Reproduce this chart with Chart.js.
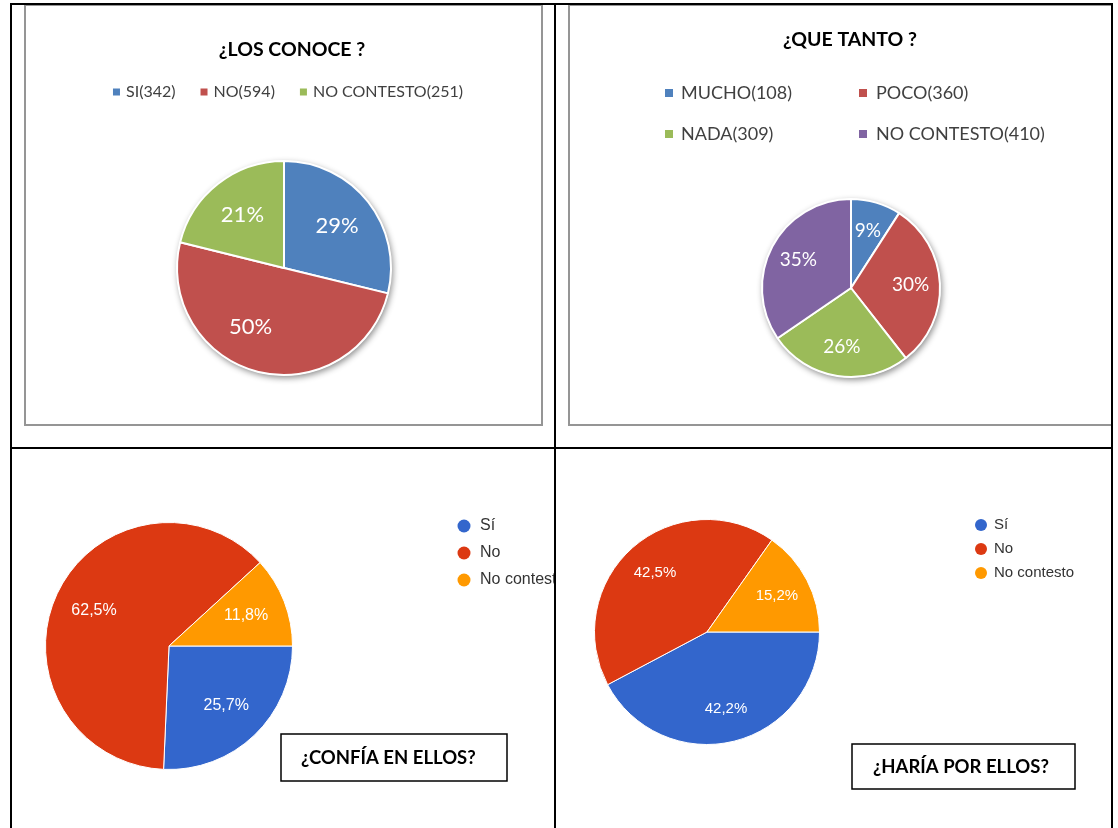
<!DOCTYPE html>
<html><head><meta charset="utf-8">
<script src="https://cdn.jsdelivr.net/npm/chart.js@4.4.1/dist/chart.umd.min.js"></script>
<style>
html,body{margin:0;padding:0;background:#fff;}
body{width:1118px;height:828px;position:relative;overflow:hidden;}
.ln{position:absolute;background:#000;}
.frame{position:absolute;border:2px solid #959595;box-sizing:border-box;}
canvas{position:absolute;}
</style></head><body>
<div class="frame" style="left:24px;top:4px;width:519px;height:422px"></div>
<div class="frame" style="left:568px;top:4px;width:545px;height:422px"></div>
<canvas id="c1" width="516" height="418" style="left:26px;top:6px"></canvas>
<canvas id="c2" width="540" height="418" style="left:570px;top:6px"></canvas>
<canvas id="c3" width="542" height="379" style="left:12px;top:449px"></canvas>
<canvas id="c4" width="555" height="379" style="left:556px;top:449px"></canvas>
<div class="ln" style="left:10px;top:3px;width:1103px;height:2px"></div>
<div class="ln" style="left:10px;top:3px;width:2px;height:825px"></div>
<div class="ln" style="left:554px;top:3px;width:2px;height:825px"></div>
<div class="ln" style="left:1111px;top:3px;width:2px;height:825px"></div>
<div class="ln" style="left:10px;top:447px;width:1103px;height:2px"></div>
<script>
// ---- data ----
const conoceTitle = '¿LOS CONOCE ?';
const conoceLabels = ['SI(342)', 'NO(594)', 'NO CONTESTO(251)'];
const conoceValues = [342, 594, 251];

const tantoTitle = '¿QUE TANTO ?';
const tantoLabels = ['MUCHO(108)', 'POCO(360)', 'NADA(309)', 'NO CONTESTO(410)'];
const tantoValues = [108, 360, 309, 410];

const confiaTitle = '¿CONFÍA EN ELLOS?';
const confiaLabels = ['Sí', 'No', 'No contesto'];
const confiaValues = [25.7, 62.5, 11.8];

const hariaTitle = '¿HARÍA POR ELLOS?';
const hariaLabels = ['Sí', 'No', 'No contesto'];
const hariaValues = [42.2, 42.5, 15.2];

const excelColors = ['#4F81BD', '#C0504D', '#9BBB59', '#8064A2'];
const googleColors = ['#3366CC', '#DC3912', '#FF9900'];

const pctRound = (v, t) => Math.round(v / t * 100) + '%';
const pctComma = (v) => v.toFixed(1).replace('.', ',') + '%';

function makeDecor(cfg) {
  return {
    id: 'decor',
    beforeDatasetsDraw(chart) {
      if (!cfg.shadow) return;
      const arc = chart.getDatasetMeta(0).data[0];
      const ctx = chart.ctx;
      ctx.save();
      ctx.shadowColor = 'rgba(0,0,0,0.45)';
      ctx.shadowBlur = 6;
      ctx.shadowOffsetX = 1.5;
      ctx.shadowOffsetY = 2.5;
      ctx.beginPath();
      ctx.arc(arc.x, arc.y, arc.outerRadius + 0.5, 0, Math.PI * 2);
      ctx.fillStyle = '#fff';
      ctx.fill();
      ctx.restore();
    },
    afterDatasetsDraw(chart) {
      const ctx = chart.ctx;
      const ds = chart.data.datasets[0];
      const total = ds.data.reduce((a, b) => a + b, 0);
      const meta = chart.getDatasetMeta(0);
      const ox = cfg.ox, oy = cfg.oy;
      ctx.save();
      // value labels
      ctx.font = cfg.valueFont;
      ctx.fillStyle = '#fff';
      ctx.textAlign = 'center';
      ctx.textBaseline = 'middle';
      meta.data.forEach((arc, i) => {
        const shift = (cfg.shift && cfg.shift[i] || 0) * Math.PI / 180;
        const mid = (arc.startAngle + arc.endAngle) / 2 + shift;
        const r = arc.outerRadius * cfg.k;
        ctx.fillText(cfg.fmt(ds.data[i], total), arc.x + Math.cos(mid) * r, arc.y + Math.sin(mid) * r);
      });
      // title
      if (cfg.title) {
        const t = cfg.title;
        ctx.font = t.font;
        ctx.fillStyle = '#000';
        if (t.box) {
          ctx.strokeStyle = '#000';
          ctx.lineWidth = 1.5;
          ctx.strokeRect(t.box[0] - ox, t.box[1] - oy, t.box[2], t.box[3]);
          ctx.textAlign = 'left';
        } else {
          ctx.textAlign = 'center';
        }
        ctx.textBaseline = 'middle';
        ctx.fillText(t.text, t.x - ox, t.y - oy);
      }
      // legend
      const L = cfg.legend;
      const labels = chart.data.labels;
      const colors = ds.backgroundColor;
      ctx.font = L.font;
      ctx.textAlign = 'left';
      ctx.textBaseline = 'middle';
      const drawItem = (i, mx, my, tx) => {
        ctx.fillStyle = colors[i];
        if (L.marker === 'circle') {
          ctx.beginPath();
          ctx.arc(mx - ox, my - oy, L.size, 0, Math.PI * 2);
          ctx.fill();
        } else {
          ctx.fillRect(mx - ox, my - oy - L.size / 2, L.size, L.size);
        }
        ctx.fillStyle = L.color;
        ctx.fillText(labels[i], tx - ox, my - oy);
      };
      if (L.mode === 'row') {
        const widths = labels.map(l => ctx.measureText(l).width);
        const totalW = widths.reduce((a, w) => a + L.size + L.pad + w, 0) + L.gap * (labels.length - 1);
        let x = L.cx - totalW / 2;
        labels.forEach((l, i) => {
          drawItem(i, x, L.y, x + L.size + L.pad);
          x += L.size + L.pad + widths[i] + L.gap;
        });
      } else if (L.mode === 'grid') {
        labels.forEach((l, i) => {
          const c = i % 2, r = Math.floor(i / 2);
          drawItem(i, L.mx[c], L.ys[r], L.tx[c]);
        });
      } else {
        labels.forEach((l, i) => drawItem(i, L.mx, L.ys[i], L.tx));
      }
      ctx.restore();
    }
  };
}

function pie(id, labels, values, colors, bw, padding, rotation, cfg) {
  return new Chart(document.getElementById(id), {
    type: 'pie',
    data: {
      labels: labels,
      datasets: [{ data: values, backgroundColor: colors.slice(0, values.length), borderColor: '#fff', borderWidth: bw }]
    },
    options: {
      responsive: false,
      animation: false,
      rotation: rotation,
      layout: { padding: padding },
      plugins: { legend: { display: false }, tooltip: { enabled: false }, title: { display: false } }
    },
    plugins: [makeDecor(cfg)]
  });
}

pie('c1', conoceLabels, conoceValues, excelColors, 2,
  { left: 150, right: 150, top: 154, bottom: 48 }, 0, {
    ox: 26, oy: 6, shadow: true, k: 0.63, shift: [0, 16, 0],
    valueFont: '22px Lato', fmt: pctRound,
    title: { text: conoceTitle, x: 292, y: 50, font: 'bold 19.5px Lato' },
    legend: { mode: 'row', cx: 288, y: 92, size: 7, pad: 6, gap: 25, font: '16px Lato', color: '#404040', marker: 'square' }
  });

pie('c2', tantoLabels, tantoValues, excelColors, 2,
  { left: 191, right: 169, top: 192, bottom: 46 }, 0, {
    ox: 570, oy: 6, shadow: true, k: 0.67,
    valueFont: '19px Lato', fmt: pctRound,
    title: { text: tantoTitle, x: 850, y: 40, font: 'bold 19.5px Lato' },
    legend: { mode: 'grid', mx: [665, 859], tx: [681, 876], ys: [93, 134], size: 8, font: '18px Lato', color: '#404040', marker: 'square' }
  });

pie('c3', confiaLabels, confiaValues, googleColors, 1,
  { left: 33, right: 261, top: 73, bottom: 58 }, 90, {
    ox: 12, oy: 449, shadow: false, k: 0.67,
    valueFont: '16px "Liberation Sans"', fmt: (v) => pctComma(v),
    title: { text: confiaTitle, x: 301, y: 758, font: 'bold 18.5px Lato', box: [281, 734, 226, 47] },
    legend: { mode: 'col', mx: 464, tx: 480, ys: [526, 553, 580], size: 6.5, font: '16px "Liberation Sans"', color: '#333', marker: 'circle' }
  });

pie('c4', hariaLabels, hariaValues, googleColors, 1,
  { left: 38, right: 291, top: 70, bottom: 83 }, 90, {
    ox: 556, oy: 449, shadow: false, k: 0.7,
    valueFont: '15px "Liberation Sans"', fmt: (v) => pctComma(v),
    title: { text: hariaTitle, x: 873, y: 767, font: 'bold 18.5px Lato', box: [852, 744, 223, 45] },
    legend: { mode: 'col', mx: 981, tx: 994, ys: [525, 549, 573], size: 6, font: '15px "Liberation Sans"', color: '#333', marker: 'circle' }
  });
</script>
</body></html>
